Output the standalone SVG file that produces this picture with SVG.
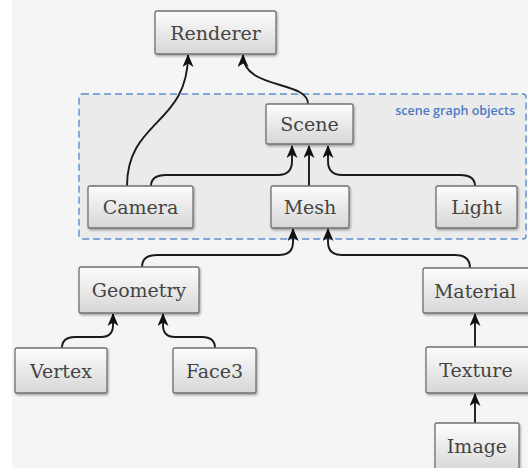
<svg xmlns="http://www.w3.org/2000/svg" width="528" height="468" viewBox="0 0 528 468">
<defs>
<linearGradient id="g" x1="0" y1="0" x2="0" y2="1">
<stop offset="0" stop-color="#fdfdfd"/>
<stop offset="1" stop-color="#d6d6d6"/>
</linearGradient>
<filter id="sh" x="-10%" y="-10%" width="130%" height="140%">
<feDropShadow dx="1" dy="1.5" stdDeviation="1" flood-color="#000" flood-opacity="0.35"/>
</filter>
<marker id="ah" viewBox="0 0 13 11" refX="12" refY="5.5" markerWidth="13" markerHeight="11" markerUnits="userSpaceOnUse" orient="auto">
<path d="M0,0 L13,5.5 L0,11 L3.5,5.5 z" fill="#111"/>
</marker>
</defs>
<style>
.n rect{fill:url(#g);stroke:#707070;stroke-width:1.3;filter:url(#sh)}
.n text{font-family:"DejaVu Serif","Liberation Serif",serif;font-size:19px;fill:#444;text-anchor:middle}
.c path{fill:none;stroke:#1a1a1a;stroke-width:1.9;marker-end:url(#ah)}
</style>
<rect width="528" height="468" fill="#ffffff"/>
<rect x="12" y="0" width="516" height="468" fill="#f5f5f5"/>
<g id="group-scene-graph">
<rect x="79" y="94" width="447" height="145" rx="3" fill="#ebebeb" stroke="#5b8fd0" stroke-width="1.4" stroke-dasharray="7,4"/>
<text x="515" y="115" font-family="'Open Sans','Noto Sans',sans-serif" font-size="12.5" font-weight="600" fill="#4a7bc4" text-anchor="end">scene graph objects</text>
</g>
<g class="c" id="connectors">
<path d="M127,186 C127,120 188,125 188,55"/>
<path d="M308,104 C308,80 243,90 243,55"/>
<path d="M151,186 Q151,175 166,175 L278,175 Q292,175 292,161 L292,146"/>
<path d="M309,186 L309,146"/>
<path d="M475,186 Q475,175 460,175 L342,175 Q328,175 328,161 L328,146"/>
<path d="M142,267 Q142,255 157,255 L279,255 Q293,255 293,242 L293,229"/>
<path d="M470,268 Q470,255 455,255 L342,255 Q328,255 328,242 L328,229"/>
<path d="M62,348 Q62,337 75,337 L101,337 Q113,337 113,325 L113,314"/>
<path d="M215,348 Q215,337 202,337 L175,337 Q163,337 163,325 L163,314"/>
<path d="M475,347 L475,314"/>
<path d="M475,423 L475,394"/>
</g>
<g class="n" id="renderer"><rect x="155" y="11" width="121" height="43" rx="2"/><text x="215.5" y="39.5">Renderer</text></g>
<g class="n" id="scene"><rect x="266" y="104" width="87" height="40" rx="2"/><text x="309.5" y="130.5">Scene</text></g>
<g class="n" id="camera"><rect x="88" y="186" width="105" height="42" rx="2"/><text x="140.5" y="213.5">Camera</text></g>
<g class="n" id="mesh"><rect x="271" y="186" width="78" height="42" rx="2"/><text x="310" y="213.5">Mesh</text></g>
<g class="n" id="light"><rect x="436" y="186" width="81" height="42" rx="2"/><text x="476.5" y="213.5">Light</text></g>
<g class="n" id="geometry"><rect x="79" y="267" width="120" height="46" rx="2"/><text x="139" y="296.5">Geometry</text></g>
<g class="n" id="material"><rect x="423" y="268" width="110" height="45" rx="2"/><text x="475" y="297.5">Material</text></g>
<g class="n" id="vertex"><rect x="15" y="348" width="92" height="45" rx="2"/><text x="61" y="377.5">Vertex</text></g>
<g class="n" id="face3"><rect x="173" y="348" width="83" height="45" rx="2"/><text x="214.5" y="377.5">Face3</text></g>
<g class="n" id="texture"><rect x="426" y="347" width="110" height="46" rx="2"/><text x="476" y="376.5">Texture</text></g>
<g class="n" id="image"><rect x="435" y="423" width="84" height="50" rx="2"/><text x="477" y="452.5">Image</text></g>
</svg>
